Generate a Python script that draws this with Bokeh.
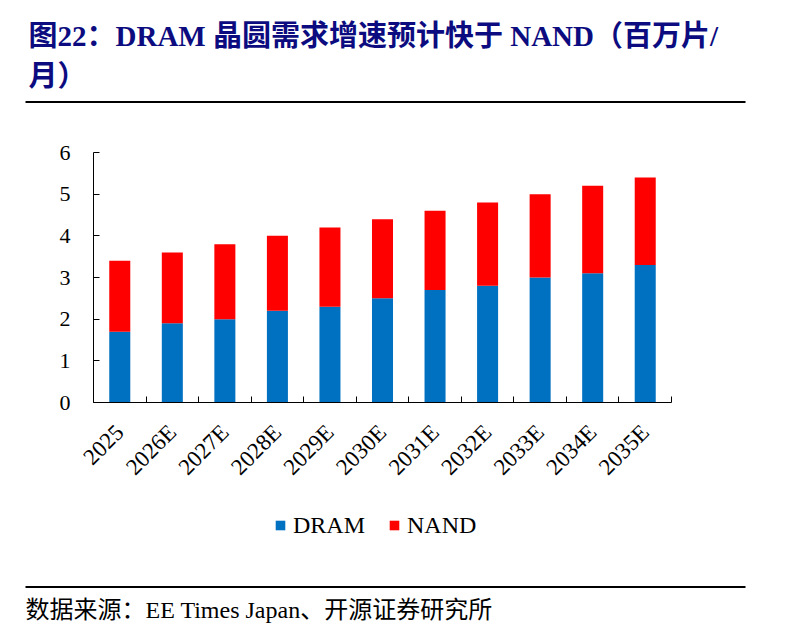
import math
from bokeh.plotting import figure
from bokeh.models import (Range1d, FixedTicker, Legend, LegendItem, ColumnDataSource,
                          Label, BoxAnnotation)
from bokeh.embed import file_html
from bokeh.resources import INLINE

# ---- data ----
categories = ["2025", "2026E", "2027E", "2028E", "2029E", "2030E",
              "2031E", "2032E", "2033E", "2034E", "2035E"]
dram = [1.7, 1.9, 2.0, 2.2, 2.3, 2.5, 2.7, 2.8, 3.0, 3.1, 3.3]
nand = [1.7, 1.7, 1.8, 1.8, 1.9, 1.9, 1.9, 2.0, 2.0, 2.1, 2.1]
series = ["DRAM", "NAND"]
y_ticks = [0, 1, 2, 3, 4, 5, 6]
title_lines = ["图22：DRAM 晶圆需求增速预计快于 NAND（百万片/", "月）"]
source_text = "数据来源：EE Times Japan、开源证券研究所"

# ---- style / layout (pixels) ----
SERIF = "'Liberation Serif', 'Noto Sans CJK SC'"
BLUE = "#0070C0"
RED = "#FF0000"
NAVY = "#0c0c80"
W, H = 785, 625
AX_L, AX_R, AX_T, AX_B = 93, 671, 152, 402   # axes box in canvas pixels

n = len(categories)
x_lo, x_hi = -0.5, n - 0.5
y_lo, y_hi = y_ticks[0], y_ticks[-1]
kx = (x_hi - x_lo) / (AX_R - AX_L)
ky = (y_hi - y_lo) / (AX_B - AX_T)
x_range = Range1d(x_lo - AX_L * kx, x_hi + (W - AX_R) * kx)
y_range = Range1d(y_lo - (H - AX_B) * ky, y_hi + AX_T * ky)

xs = list(range(n))
src = ColumnDataSource(dict(x=xs, DRAM=dram, NAND=nand))

p = figure(width=W, height=H, output_backend="svg", toolbar_location=None,
           x_range=x_range, y_range=y_range, min_border=0)
p.title.visible = False
p.outline_line_color = None
p.grid.visible = False

rs = p.vbar_stack(series, x="x", width=0.4, color=[BLUE, RED], source=src,
                  line_color=None)

# x axis: labels at centres, ticks at category boundaries (minor ticks)
xa = p.xaxis[0]
xa.fixed_location = y_lo
xa.bounds = (x_lo, x_hi)
xa.ticker = FixedTicker(ticks=xs, minor_ticks=[i - 0.5 for i in range(n + 1)])
xa.major_label_overrides = {i: c for i, c in zip(xs, categories)}
xa.major_tick_in = 0
xa.major_tick_out = 0
xa.minor_tick_in = 6
xa.minor_tick_out = 0
xa.minor_tick_line_color = "black"
xa.axis_line_color = "black"
xa.major_label_orientation = math.pi / 4
xa.major_label_text_font = SERIF
xa.major_label_text_font_size = "23px"
xa.major_label_text_color = "black"
xa.major_label_standoff = 26

ya = p.yaxis[0]
ya.fixed_location = x_lo
ya.bounds = (y_lo, y_hi)
ya.ticker = FixedTicker(ticks=y_ticks)
ya.major_tick_in = 6
ya.major_tick_out = 0
ya.minor_tick_in = 0
ya.minor_tick_out = 0
ya.axis_line_color = "black"
ya.major_tick_line_color = "black"
ya.major_label_text_font = SERIF
ya.major_label_text_font_size = "22px"
ya.major_label_text_color = "black"
ya.major_label_standoff = 23

# legend (screen position from the frame's bottom-left = canvas bottom-left)
legend = Legend(items=[LegendItem(label=s, renderers=[r]) for s, r in zip(series, rs)],
                orientation="horizontal", location=(274, H - 538.5),
                padding=0, margin=0, spacing=23, label_standoff=7,
                glyph_width=12, glyph_height=12,
                label_text_font=SERIF, label_text_font_size="24px",
                label_text_color="black",
                border_line_color=None, background_fill_alpha=0)
p.add_layout(legend, "center")


def label(text, x, y_top, size, color, bold=False):
    p.add_layout(Label(x=x, y=H - y_top, x_units="screen", y_units="screen",
                       text=text, text_font=SERIF, text_font_size=size,
                       text_font_style="bold" if bold else "normal",
                       text_color=color, text_baseline="middle", text_align="left"))


def rule(y_mid):
    p.add_layout(BoxAnnotation(left=25, right=745, top=H - y_mid + 1.1, bottom=H - y_mid - 1.1,
                               left_units="screen", right_units="screen",
                               top_units="screen", bottom_units="screen",
                               fill_color="black", fill_alpha=1, line_color=None))


label(title_lines[0], 28, 35.5, "29px", NAVY, bold=True)
label(title_lines[1], 28, 75, "29px", NAVY, bold=True)
rule(101.5)
rule(586.5)
label(source_text, 25, 609.5, "24px", "black")

open("out.html", "w").write(file_html(p, INLINE))
